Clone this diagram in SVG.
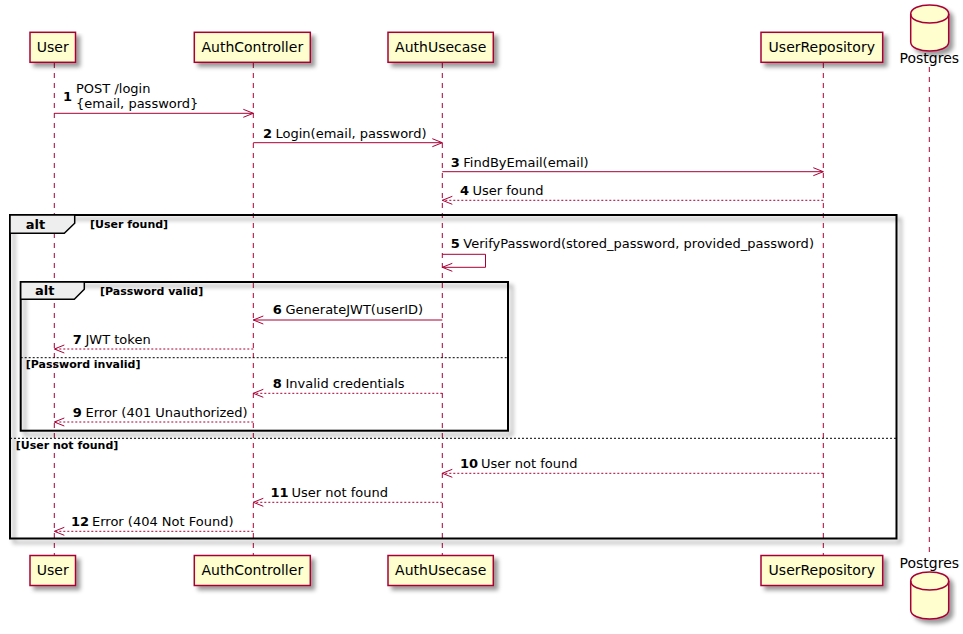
<svg xmlns="http://www.w3.org/2000/svg" width="963" height="634" viewBox="0 0 963 634">
<defs>
<filter id="sh" x="-10%" y="-10%" width="130%" height="140%">
<feGaussianBlur stdDeviation="2"/>
<feColorMatrix type="matrix" values="0 0 0 0 0 0 0 0 0 0 0 0 0 0 0 0 0 0 .4 0" result="b"/>
<feOffset dx="4" dy="4" result="o"/>
<feBlend in="SourceGraphic" in2="o" mode="normal"/>
</filter>
<marker id="ah" viewBox="0 0 12 10" refX="11" refY="5" markerWidth="12" markerHeight="10" markerUnits="userSpaceOnUse" orient="auto">
<path d="M1,1 L11,5 L1,9" fill="none" stroke="#A80036" stroke-width="1"/>
</marker>
</defs>
<style>
text{font-family:"DejaVu Sans","Liberation Sans",sans-serif;fill:#000}
.pbox{fill:#FEFECE;stroke:#A80036;stroke-width:1.5}
.pt{font-size:14px;text-anchor:middle}
.life{stroke:#A80036;stroke-width:1;stroke-dasharray:5,5;fill:none}
.msg{stroke:#A80036;stroke-width:1;fill:none;marker-end:url(#ah)}
.ret{stroke-dasharray:2,2}
.num{font-size:13px;font-weight:bold}
.mt{font-size:13px}
.grp{fill:none;stroke:#000;stroke-width:2}
.tab{fill:#EEEEEE;stroke:#000;stroke-width:1.5}
.gl{font-size:13px;font-weight:bold}
.gd{font-size:11px;font-weight:bold}
.sep{stroke:#000;stroke-width:1;stroke-dasharray:2,2}
</style>
<rect width="963" height="634" fill="#FFFFFF"/>

<g id="lifelines">
<line class="life" x1="54.3" y1="63" x2="54.3" y2="555"/>
<line class="life" x1="253.3" y1="63" x2="253.3" y2="555"/>
<line class="life" x1="442.3" y1="63" x2="442.3" y2="555"/>
<line class="life" x1="823.3" y1="63" x2="823.3" y2="555"/>
<line class="life" x1="929.3" y1="67" x2="929.3" y2="553"/>
</g>

<g id="groups">
<rect class="grp" x="10" y="215" width="886.5" height="323.5" filter="url(#sh)"/>
<polygon class="tab" points="10,215 74.7,215 74.7,223.3 64.3,233.3 10,233.3"/>
<text class="gl" x="25.7" y="229">alt</text>
<text class="gd" x="90" y="228">[User found]</text>
<line class="sep" x1="10" y1="438.3" x2="896.5" y2="438.3"/>
<text class="gd" x="15.7" y="448.5">[User not found]</text>

<rect class="grp" x="20.7" y="282" width="487.3" height="148.7" filter="url(#sh)"/>
<polygon class="tab" points="20.7,282 84.3,282 84.3,289.3 74.3,299.3 20.7,299.3"/>
<text class="gl" x="35" y="295">alt</text>
<text class="gd" x="100" y="294.5">[Password valid]</text>
<line class="sep" x1="20.7" y1="357.7" x2="508" y2="357.7"/>
<text class="gd" x="25.7" y="368.3">[Password invalid]</text>
</g>

<g id="connectors">
<line class="msg" x1="54.3" y1="113.3" x2="253.3" y2="113.3"/>
<text class="num" x="63" y="101">1</text>
<text class="mt" x="76" y="93">POST /login</text>
<text class="mt" x="76" y="108">{email, password}</text>

<line class="msg" x1="253.3" y1="142.7" x2="442.3" y2="142.7"/>
<text class="num" x="263" y="137.7">2</text>
<text class="mt" x="275.5" y="137.7">Login(email, password)</text>

<line class="msg" x1="442.3" y1="171.7" x2="823.3" y2="171.7"/>
<text class="num" x="450.7" y="166.7">3</text>
<text class="mt" x="463.3" y="166.7">FindByEmail(email)</text>

<line class="msg ret" x1="823.3" y1="200.3" x2="442.3" y2="200.3"/>
<text class="num" x="460" y="195.3">4</text>
<text class="mt" x="472.5" y="195.3">User found</text>

<polyline class="msg" points="442.3,254.3 485.5,254.3 485.5,267.3 442.3,267.3"/>
<text class="num" x="450.7" y="248.3">5</text>
<text class="mt" x="463.3" y="248.3">VerifyPassword(stored_password, provided_password)</text>

<line class="msg" x1="442.3" y1="320" x2="253.3" y2="320"/>
<text class="num" x="272.7" y="314.3">6</text>
<text class="mt" x="285.5" y="314.3">GenerateJWT(userID)</text>

<line class="msg ret" x1="253.3" y1="349" x2="54.3" y2="349"/>
<text class="num" x="72.7" y="344">7</text>
<text class="mt" x="85.5" y="344">JWT token</text>

<line class="msg ret" x1="442.3" y1="393.3" x2="253.3" y2="393.3"/>
<text class="num" x="272.7" y="387.7">8</text>
<text class="mt" x="285.5" y="387.7">Invalid credentials</text>

<line class="msg ret" x1="253.3" y1="422" x2="54.3" y2="422"/>
<text class="num" x="72.7" y="416.5">9</text>
<text class="mt" x="85.5" y="416.5">Error (401 Unauthorized)</text>

<line class="msg ret" x1="823.3" y1="473.3" x2="442.3" y2="473.3"/>
<text class="num" x="460" y="468">10</text>
<text class="mt" x="481" y="468">User not found</text>

<line class="msg ret" x1="442.3" y1="502.3" x2="253.3" y2="502.3"/>
<text class="num" x="270.5" y="497">11</text>
<text class="mt" x="291.5" y="497">User not found</text>

<line class="msg ret" x1="253.3" y1="531.3" x2="54.3" y2="531.3"/>
<text class="num" x="71" y="526">12</text>
<text class="mt" x="92" y="526">Error (404 Not Found)</text>
</g>

<g id="User">
<rect class="pbox" x="30" y="32.3" width="45.5" height="30" filter="url(#sh)"/>
<text class="pt" x="52.8" y="51.8">User</text>
<rect class="pbox" x="30" y="555.5" width="45.5" height="30" filter="url(#sh)"/>
<text class="pt" x="52.8" y="575">User</text>
</g>
<g id="AuthController">
<rect class="pbox" x="194.3" y="32.3" width="116" height="30" filter="url(#sh)"/>
<text class="pt" x="252.3" y="51.8">AuthController</text>
<rect class="pbox" x="194.3" y="555.5" width="116" height="30" filter="url(#sh)"/>
<text class="pt" x="252.3" y="575">AuthController</text>
</g>
<g id="AuthUsecase">
<rect class="pbox" x="388" y="32.3" width="105.3" height="30" filter="url(#sh)"/>
<text class="pt" x="440.7" y="51.8">AuthUsecase</text>
<rect class="pbox" x="388" y="555.5" width="105.3" height="30" filter="url(#sh)"/>
<text class="pt" x="440.7" y="575">AuthUsecase</text>
</g>
<g id="UserRepository">
<rect class="pbox" x="761" y="32.3" width="121.7" height="30" filter="url(#sh)"/>
<text class="pt" x="821.8" y="51.8">UserRepository</text>
<rect class="pbox" x="761" y="555.5" width="121.7" height="30" filter="url(#sh)"/>
<text class="pt" x="821.8" y="575">UserRepository</text>
</g>
<g id="Postgres">
<path class="pbox" d="M910.7,14 C910.7,2 948.7,2 948.7,14 L948.7,42 C948.7,54 910.7,54 910.7,42 Z" filter="url(#sh)"/>
<path d="M910.7,14 C910.7,26 948.7,26 948.7,14" fill="none" stroke="#A80036" stroke-width="1.5"/>
<text class="pt" x="929.3" y="63.3">Postgres</text>
<path class="pbox" d="M910.7,581 C910.7,569 948.7,569 948.7,581 L948.7,610 C948.7,622 910.7,622 910.7,610 Z" filter="url(#sh)"/>
<path d="M910.7,581 C910.7,593 948.7,593 948.7,581" fill="none" stroke="#A80036" stroke-width="1.5"/>
<text class="pt" x="929.3" y="568.3">Postgres</text>
</g>
</svg>
